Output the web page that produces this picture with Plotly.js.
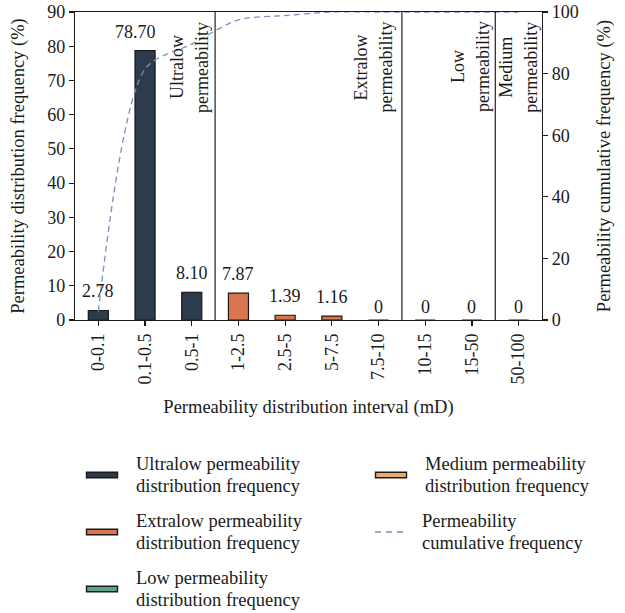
<!DOCTYPE html>
<html>
<head>
<meta charset="utf-8">
<script src="https://cdn.plot.ly/plotly-3.0.1.min.js"></script>
<style>
  html, body { margin: 0; padding: 0; background: #fff; }
  #chart { width: 625px; height: 613px; }
</style>
</head>
<body>
<div id="chart"></div>
<script>
// Permeability intervals (mD)
const intervals = ['0-0.1', '0.1-0.5', '0.5-1', '1-2.5', '2.5-5', '5-7.5', '7.5-10', '10-15', '15-50', '50-100'];

// Distribution frequency (%) per permeability class
const ultralowCats = ['0-0.1', '0.1-0.5', '0.5-1'];
const ultralowFreq = [2.78, 78.70, 8.10];
const extralowCats = ['1-2.5', '2.5-5', '5-7.5', '7.5-10'];
const extralowFreq = [7.87, 1.39, 1.16, 0];
const lowCats = ['10-15', '15-50'];
const lowFreq = [0, 0];
const mediumCats = ['50-100'];
const mediumFreq = [0];

// Cumulative frequency (%)
const cumulativeFreq = [2.78, 81.48, 89.58, 97.45, 98.84, 100, 100, 100, 100, 100];

// Class boundaries and class names
const classBounds = [2.5, 6.5, 8.5];
const classNames = [['Ultralow', 'permeability'], ['Extralow', 'permeability'], ['Low', 'permeability'], ['Medium', 'permeability']];
const classLabelX = [1.95, 5.9, 7.97, 8.99];

const FONT = 'Liberation Serif, Times New Roman, serif';
const INK = '#1a1a1a';
const colors = {
  ultralow: '#2c3c4c',
  extralow: '#d9764f',
  low: '#5aa592',
  medium: '#eda865',
  cumulative: '#7d8fbd'
};

// Plot area in pixels (used for placing the legend block)
const W = 625, H = 613;
const PL = 75, PR = 542, PT = 12, PB = 320;
const px = x => (x - PL) / (PR - PL);
const py = y => (PB - y) / (PB - PT);

function barTrace(cats, vals, color) {
  return {
    type: 'bar', x: cats, y: vals, width: 0.43,
    marker: { color: color, line: { color: INK, width: 1.2 } },
    showlegend: false, hoverinfo: 'x+y'
  };
}

const traces = [
  barTrace(ultralowCats, ultralowFreq, colors.ultralow),
  barTrace(extralowCats, extralowFreq, colors.extralow),
  barTrace(lowCats, lowFreq, colors.low),
  barTrace(mediumCats, mediumFreq, colors.medium),
  {
    type: 'scatter', mode: 'lines', x: intervals, y: cumulativeFreq, yaxis: 'y2',
    line: { color: colors.cumulative, width: 1.3, dash: '6px,4px', shape: 'spline', smoothing: 0.8 },
    showlegend: false
  }
];

// Value labels above each bar
const annotations = [];
const labelShift = { '0.1-0.5': -10 };
[[ultralowCats, ultralowFreq], [extralowCats, extralowFreq], [lowCats, lowFreq], [mediumCats, mediumFreq]]
  .forEach(([cats, vals]) => {
    cats.forEach((c, i) => {
      const v = vals[i];
      annotations.push({
        x: c, y: v, xref: 'x', yref: 'y',
        text: v === 0 ? '0' : v.toFixed(2),
        showarrow: false, xanchor: 'center', yanchor: 'bottom',
        yshift: v === 0 ? 1 : 7, xshift: labelShift[c] || 0,
        font: { family: FONT, size: 18, color: INK }
      });
    });
  });

// Class names, rotated, beside each class boundary
classNames.forEach((lines, i) => {
  lines.forEach((line, j) => {
    annotations.push({
      x: classLabelX[i], y: py(67), xref: 'x', yref: 'paper',
      xshift: j === 0 ? -12.5 : 12.5,
      text: line, textangle: -90, showarrow: false,
      xanchor: 'center', yanchor: 'middle',
      font: { family: FONT, size: 18, color: INK }
    });
  });
});

// Vertical class boundaries
const shapes = classBounds.map(b => ({
  type: 'line', xref: 'x', yref: 'paper', x0: b, x1: b, y0: 0, y1: 1,
  line: { color: '#222', width: 1.2 }
}));

// Legend, drawn in two columns below the plot
const legendItems = [
  { kind: 'bar', color: colors.ultralow, text: ['Ultralow permeability', 'distribution frequency'], col: 0, row: 0 },
  { kind: 'bar', color: colors.extralow, text: ['Extralow permeability', 'distribution frequency'], col: 0, row: 1 },
  { kind: 'bar', color: colors.low, text: ['Low permeability', 'distribution frequency'], col: 0, row: 2 },
  { kind: 'bar', color: colors.medium, text: ['Medium permeability', 'distribution frequency'], col: 1, row: 0 },
  { kind: 'line', color: colors.cumulative, text: ['Permeability', 'cumulative frequency'], col: 1, row: 1 }
];
const colX = [86, 375];
const rowY = [475, 532, 589];
legendItems.forEach(it => {
  const x0 = colX[it.col], yc = rowY[it.row];
  if (it.kind === 'bar') {
    shapes.push({
      type: 'rect', xref: 'paper', yref: 'paper',
      x0: px(x0 + 0.5), x1: px(x0 + 31.5), y0: py(yc + 2.7), y1: py(yc - 2.7),
      fillcolor: it.color, line: { color: INK, width: 1.4 }
    });
  } else {
    shapes.push({
      type: 'line', xref: 'paper', yref: 'paper',
      x0: px(x0), x1: px(x0 + 32), y0: py(yc), y1: py(yc),
      line: { color: it.color, width: 1.3, dash: '6px,5px' }
    });
  }
  it.text.forEach((line, j) => {
    annotations.push({
      x: px(x0 + (it.kind === 'bar' ? 48 : 45)), y: py(yc + (j === 0 ? -11.5 : 11)),
      xref: 'paper', yref: 'paper',
      text: line, showarrow: false, xanchor: 'left', yanchor: 'middle', align: 'left',
      font: { family: FONT, size: 18.5, color: INK }
    });
  });
});

const axisFont = { family: FONT, size: 18, color: INK };
const titleFont = { family: FONT, size: 18.5, color: INK };

const layout = {
  width: W, height: H,
  margin: { l: PL, r: W - PR, t: PT, b: H - PB },
  paper_bgcolor: '#fff', plot_bgcolor: '#fff',
  font: { family: FONT, size: 18, color: INK },
  showlegend: false,
  xaxis: {
    type: 'category', categoryorder: 'array', categoryarray: intervals,
    range: [-0.5, 9.5],
    showline: true, linecolor: INK, linewidth: 1.2, mirror: true,
    ticks: 'outside', ticklen: 5, tickcolor: INK, tickwidth: 1.2,
    tickangle: -90, showgrid: false, zeroline: false,
    tickfont: axisFont,
    title: { text: 'Permeability distribution interval (mD)', standoff: 16, font: titleFont }
  },
  yaxis: {
    range: [0, 90], dtick: 10,
    showline: true, linecolor: INK, linewidth: 1.2,
    ticks: 'outside', ticklen: 5, tickcolor: INK, tickwidth: 1.2,
    showgrid: false, zeroline: false,
    tickfont: axisFont,
    title: { text: 'Permeability distribution frequency (%)', standoff: 17, font: titleFont }
  },
  yaxis2: {
    overlaying: 'y', side: 'right',
    range: [0, 100], dtick: 20,
    showline: true, linecolor: INK, linewidth: 1.2,
    ticks: 'outside', ticklen: 5, tickcolor: INK, tickwidth: 1.2,
    showgrid: false, zeroline: false,
    tickfont: axisFont,
    title: { text: 'Permeability cumulative frequency (%)', standoff: 19, font: titleFont }
  },
  shapes: shapes,
  annotations: annotations
};

Plotly.newPlot('chart', traces, layout, { displayModeBar: false, staticPlot: true });
</script>
</body>
</html>
